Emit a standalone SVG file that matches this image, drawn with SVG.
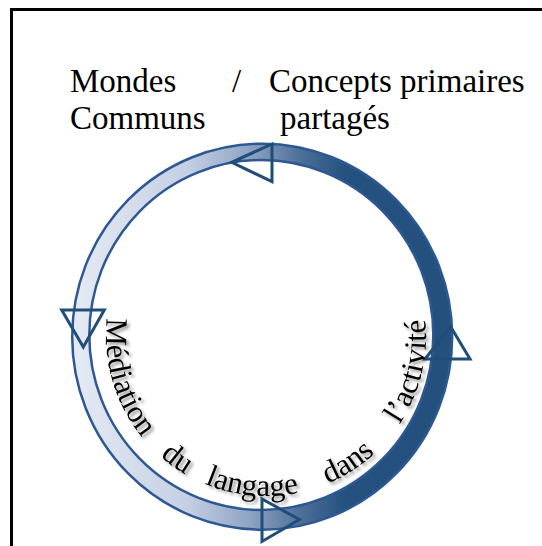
<svg xmlns="http://www.w3.org/2000/svg" width="542" height="546" viewBox="0 0 542 546">
  <defs>
    <linearGradient id="ringGrad" gradientUnits="userSpaceOnUse" x1="72" y1="0" x2="452" y2="0">
      <stop offset="0" stop-color="#e6ebf4"/>
      <stop offset="0.3" stop-color="#c5d0e4"/>
      <stop offset="0.47" stop-color="#8ea3c3"/>
      <stop offset="0.6" stop-color="#4d7099"/>
      <stop offset="0.72" stop-color="#24517f"/>
      <stop offset="1" stop-color="#23507d"/>
    </linearGradient>
    <filter id="shadow" x="-20%" y="-20%" width="140%" height="140%">
      <feDropShadow dx="2.5" dy="2.5" stdDeviation="1.8" flood-color="#000000" flood-opacity="0.4"/>
    </filter>
    <path id="textCircle" d="M108.43,308.22 A160,160 0 1 0 423.57,308.22"/>
  </defs>
  <style>
    .title { font-family: "Liberation Serif", "Times New Roman", serif; font-size: 33px; fill: #000000; }
    .arc { font-family: "Liberation Serif", "Times New Roman", serif; font-size: 31px; fill: #000000; }
    .head { fill: none; stroke: #1f4e79; stroke-width: 3; stroke-linejoin: miter; }
    .ring { fill: url(#ringGrad); fill-rule: evenodd; stroke: #2d5893; stroke-width: 2.5; }
  </style>
  <rect width="542" height="546" fill="#ffffff"/>
  <g id="frame">
    <path d="M11.5,546 V9.5 H542" fill="none" stroke="#000000" stroke-width="3"/>
  </g>
  <g id="title">
    <text class="title" x="70" y="91.5">Mondes</text>
    <text class="title" x="232" y="91.5">/</text>
    <text class="title" x="269" y="91.5">Concepts primaires</text>
    <text class="title" x="70" y="128.5">Communs</text>
    <text class="title" x="280" y="128.5">partagés</text>
  </g>
  <g id="cycle-ring">
    <path class="ring" d="M72.2,336.7 A190,193 0 1 0 452.2,336.7 A190,193 0 1 0 72.2,336.7 Z M89.3,335 A172,175 0 1 1 433.3,335 A172,175 0 1 1 89.3,335 Z"/>
  </g>
  <g id="connectors">
    <polygon class="head" points="272,144 231.7,162.3 272,181.7"/>
    <polygon class="head" points="61.7,310 104.3,310 83.3,347"/>
    <polygon class="head" points="262,499 262,541.5 299.5,519.5"/>
    <polygon class="head" points="450.7,326.7 470,359 425,359"/>
  </g>
  <g id="cycle-label" filter="url(#shadow)">
    <text class="arc"><textPath href="#textCircle" startOffset="10">Médiation</textPath></text>
    <text class="arc"><textPath href="#textCircle" startOffset="163.6">du</textPath></text>
    <text class="arc"><textPath href="#textCircle" startOffset="216">langage</textPath></text>
    <text class="arc"><textPath href="#textCircle" startOffset="342.4">dans</textPath></text>
    <text class="arc"><textPath href="#textCircle" startOffset="436.7">l’activité</textPath></text>
  </g>
</svg>
